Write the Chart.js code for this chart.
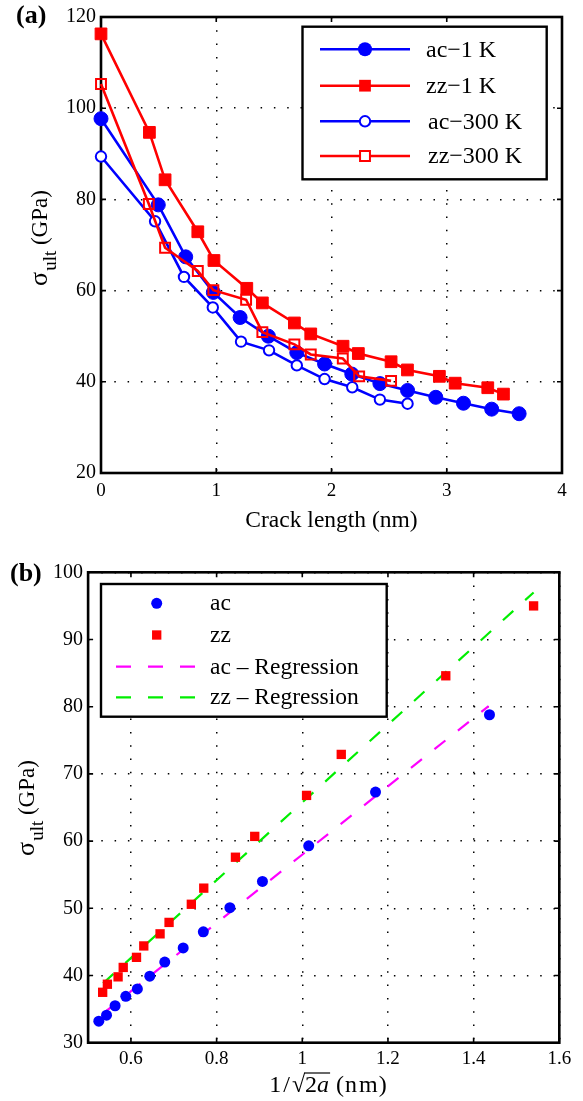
<!DOCTYPE html>
<html><head><meta charset="utf-8">
<script src="https://cdn.jsdelivr.net/npm/chart.js@4.4.1/dist/chart.umd.min.js"></script>
<style>
html,body{margin:0;padding:0;background:#fff;}
#wrap{position:relative;width:583px;height:1101px;overflow:hidden;background:#fff;}
canvas{position:absolute;left:0;}
#ca{top:0;} #cb{top:540px;}
</style></head><body>
<div id="wrap"><canvas id="ca" width="583" height="540"></canvas><canvas id="cb" width="583" height="561"></canvas></div>
<script>
// ---------- Panel (a) data: crack length (nm) vs ultimate strength (GPa) ----------
const ac1K_x   = [0, 0.497, 0.735, 0.975, 1.207, 1.452, 1.699, 1.94, 2.176, 2.42, 2.66, 2.905, 3.145, 3.39, 3.628];
const ac1K_y   = [97.7, 78.8, 67.4, 59.6, 54.1, 50.0, 46.4, 43.9, 41.7, 39.6, 38.1, 36.6, 35.3, 34.0, 33.0];
const zz1K_x   = [0, 0.42, 0.556, 0.84, 0.98, 1.265, 1.40, 1.678, 1.82, 2.10, 2.233, 2.517, 2.659, 2.936, 3.073, 3.356, 3.492];
const zz1K_y   = [116.3, 94.7, 84.3, 72.9, 66.6, 60.5, 57.3, 52.9, 50.5, 47.8, 46.2, 44.4, 42.6, 41.2, 39.7, 38.7, 37.3];
const ac300K_x = [0, 0.469, 0.72, 0.97, 1.215, 1.458, 1.699, 1.94, 2.18, 2.42, 2.66];
const ac300K_y = [89.4, 75.2, 63.0, 56.3, 48.8, 46.9, 43.6, 40.6, 38.8, 36.1, 35.2];
const zz300K_x = [0, 0.415, 0.556, 0.84, 0.975, 1.259, 1.40, 1.678, 1.82, 2.098, 2.24, 2.517];
const zz300K_y = [105.3, 79.0, 69.4, 64.3, 60.1, 58.0, 50.9, 48.2, 46.0, 45.1, 41.2, 40.2];
const labelsA  = ['ac\u22121 K', 'zz\u22121 K', 'ac\u2212300 K', 'zz\u2212300 K'];
const xTicksA  = [0, 1, 2, 3, 4];
const yTicksA  = [20, 40, 60, 80, 100, 120];

// ---------- Panel (b) data: 1/sqrt(2a) (nm) vs ultimate strength (GPa) ----------
const ac_x  = [0.525, 0.543, 0.563, 0.588, 0.615, 0.644, 0.679, 0.722, 0.769, 0.831, 0.907, 1.015, 1.171, 1.437];
const ac_y  = [33.2, 34.1, 35.5, 36.9, 38.0, 39.9, 42.0, 44.1, 46.5, 50.1, 54.0, 59.3, 67.3, 78.8];
const zz_x  = [0.534, 0.545, 0.570, 0.582, 0.613, 0.630, 0.668, 0.689, 0.741, 0.770, 0.844, 0.889, 1.010, 1.091, 1.335, 1.540];
const zz_y  = [37.5, 38.7, 39.8, 41.2, 42.7, 44.4, 46.2, 47.9, 50.6, 53.0, 57.6, 60.7, 66.8, 72.9, 84.6, 95.0];
const acReg_x = [0.542, 1.435];
const acReg_y = [34.7, 80.1];
const zzReg_x = [0.535, 1.540];
const zzReg_y = [38.85, 97.0];
const labelsB = ['ac', 'zz', 'ac \u2013 Regression', 'zz \u2013 Regression'];
const xTicksB = [0.6, 0.8, 1, 1.2, 1.4, 1.6];
const yTicksB = [30, 40, 50, 60, 70, 80, 90, 100];

const FONT = '"Liberation Serif", "Times New Roman", Times, serif';
const BLUE = '#0000ff', RED = '#ff0000', MAG = '#ff00ff', GRN = '#00ee00';
const pts = (xs, ys) => xs.map((x, i) => ({x: x, y: ys[i]}));

function fmt(v) { return String(Math.round(v * 100) / 100); }

function axisX(min, max, ticks, h, pad, size) {
  return {
    type: 'linear', min: min, max: max,
    afterBuildTicks: s => { s.ticks = ticks.map(v => ({value: v})); },
    afterFit: s => { s.height = h; },
    grid: {color: '#000', lineWidth: 1.5, drawTicks: false},
    border: {display: false, dash: [1.5, 11.8]},
    ticks: {color: '#000', padding: pad, font: {family: FONT, size: size}, callback: v => fmt(v), maxRotation: 0, autoSkip: false}
  };
}
function axisY(min, max, ticks, w, size) {
  return {
    type: 'linear', min: min, max: max,
    afterBuildTicks: s => { s.ticks = ticks.map(v => ({value: v})); },
    afterFit: s => { s.width = w; },
    grid: {color: '#000', lineWidth: 1.5, drawTicks: false},
    border: {display: false, dash: [1.5, 11.8]},
    ticks: {color: '#000', padding: 5, font: {family: FONT, size: size}, callback: v => fmt(v), autoSkip: false}
  };
}

function drawYTitle(ctx, bx, cy, size) {
  ctx.save();
  ctx.translate(bx, cy); ctx.rotate(-Math.PI / 2);
  const main = size + 'px ' + FONT, sig = (size + 3) + 'px ' + FONT, sub = Math.round(size * 0.82) + 'px ' + FONT;
  ctx.font = sig; const w1 = ctx.measureText('\u03c3').width;
  ctx.font = sub; const w2 = ctx.measureText('ult').width;
  ctx.font = main; const w3 = ctx.measureText(' (GPa)').width;
  let x = -(w1 + w2 + w3 + 1) / 2;
  ctx.fillStyle = '#000'; ctx.textBaseline = 'alphabetic'; ctx.textAlign = 'left';
  ctx.font = sig; ctx.fillText('\u03c3', x, 0); x += w1 + 1;
  ctx.font = sub; ctx.fillText('ult', x, size * 0.38); x += w2;
  ctx.font = main; ctx.fillText(' (GPa)', x, 0);
  ctx.restore();
}

function framePlugin(extra) {
  return {
    id: 'frame',
    beforeDatasetsDraw(chart) {
      const ctx = chart.ctx, a = chart.chartArea, sx = chart.scales.x, sy = chart.scales.y;
      ctx.save();
      ctx.strokeStyle = '#000'; ctx.lineWidth = 1.6;
      const tl = 5;
      sx.ticks.forEach(t => {
        const p = sx.getPixelForValue(t.value);
        ctx.beginPath(); ctx.moveTo(p, a.bottom); ctx.lineTo(p, a.bottom - tl);
        ctx.moveTo(p, a.top); ctx.lineTo(p, a.top + tl); ctx.stroke();
      });
      sy.ticks.forEach(t => {
        const p = sy.getPixelForValue(t.value);
        ctx.beginPath(); ctx.moveTo(a.left, p); ctx.lineTo(a.left + tl, p);
        ctx.moveTo(a.right, p); ctx.lineTo(a.right - tl, p); ctx.stroke();
      });
      ctx.lineWidth = 2.6;
      ctx.strokeRect(a.left, a.top, a.right - a.left, a.bottom - a.top);
      ctx.restore();
    },
    afterDatasetsDraw(chart) { extra(chart); }
  };
}

function marker(ctx, style, x, y, r, color, filled) {
  ctx.save();
  ctx.fillStyle = color; ctx.strokeStyle = color; ctx.lineWidth = 2;
  ctx.beginPath();
  if (style === 'circle') ctx.arc(x, y, r, 0, Math.PI * 2);
  else { const h = r * Math.SQRT1_2; ctx.rect(x - h, y - h, 2 * h, 2 * h); }
  if (filled) ctx.fill(); else ctx.stroke();
  ctx.restore();
}

// ---------- Chart (a) ----------
const dsA = [
  {label: labelsA[0], data: pts(ac1K_x, ac1K_y), borderColor: BLUE, backgroundColor: BLUE, pointStyle: 'circle', pointRadius: 7, pointBorderWidth: 1, order: 4},
  {label: labelsA[1], data: pts(zz1K_x, zz1K_y), borderColor: RED, backgroundColor: RED, pointStyle: 'rect', pointRadius: 8.3, pointBorderWidth: 1, order: 3},
  {label: labelsA[2], data: pts(ac300K_x, ac300K_y), borderColor: BLUE, backgroundColor: 'rgba(0,0,0,0)', pointBackgroundColor: '#fff', pointStyle: 'circle', pointRadius: 5.2, pointBorderWidth: 2, order: 2},
  {label: labelsA[3], data: pts(zz300K_x, zz300K_y), borderColor: RED, backgroundColor: 'rgba(0,0,0,0)', pointBackgroundColor: 'rgba(255,255,255,0)', pointStyle: 'rect', pointRadius: 7, pointBorderWidth: 2, order: 1}
].map(d => Object.assign({borderWidth: 2.6, showLine: true, fill: false, clip: false, tension: 0}, d));

new Chart(document.getElementById('ca'), {
  type: 'line',
  data: {datasets: dsA},
  options: {
    responsive: false, animation: false, events: [],
    layout: {padding: {top: 12, right: 21, left: 0, bottom: 0}},
    plugins: {legend: {display: false}, tooltip: {enabled: false}},
    scales: {x: axisX(0, 4, xTicksA, 67, 7, 19), y: axisY(20, 120, yTicksA, 101, 20)}
  },
  plugins: [framePlugin(chart => {
    const ctx = chart.ctx;
    ctx.save();
    const L = 302.5, T = 26.7, R = 546.7, B = 179.3;
    ctx.fillStyle = '#fff'; ctx.fillRect(L, T, R - L, B - T);
    ctx.strokeStyle = '#000'; ctx.lineWidth = 2.4; ctx.strokeRect(L, T, R - L, B - T);
    const rows = [49.3, 85.7, 121.3, 156];
    const mk = [['circle', 7, BLUE, true], ['rect', 8.3, RED, true], ['circle', 5.2, BLUE, false], ['rect', 7, RED, false]];
    dsA.forEach((d, i) => {
      const y = rows[i];
      ctx.strokeStyle = d.borderColor; ctx.lineWidth = 2.6;
      ctx.beginPath(); ctx.moveTo(320, y); ctx.lineTo(410, y); ctx.stroke();
      if (!mk[i][3]) { ctx.fillStyle = '#fff'; ctx.fillRect(360, y - 5, 10, 10); }
      marker(ctx, mk[i][0], 365, y, mk[i][1], mk[i][2], mk[i][3]);
      ctx.fillStyle = '#000'; ctx.font = '24px ' + FONT; ctx.textBaseline = 'middle'; ctx.textAlign = 'left';
      ctx.fillText(d.label, i < 2 ? 426 : 428, y + 1);
    });
    ctx.font = '23.5px ' + FONT; ctx.textAlign = 'center'; ctx.textBaseline = 'alphabetic';
    ctx.fillText('Crack length (nm)', (chart.chartArea.left + chart.chartArea.right) / 2, 527);
    ctx.font = 'bold 26px ' + FONT; ctx.textAlign = 'left';
    ctx.fillText('(a)', 16, 23);
    ctx.restore();
    drawYTitle(ctx, 47, 238, 23);
  })]
});

// ---------- Chart (b) ----------
const dsB = [
  {label: labelsB[0], data: pts(ac_x, ac_y), showLine: false, borderColor: BLUE, backgroundColor: BLUE, pointStyle: 'circle', pointRadius: 5.5, pointBorderWidth: 0, order: 1},
  {label: labelsB[1], data: pts(zz_x, zz_y), showLine: false, borderColor: RED, backgroundColor: RED, pointStyle: 'rect', pointRadius: 6.6, pointBorderWidth: 0, order: 2},
  {label: labelsB[2], data: pts(acReg_x, acReg_y), showLine: true, borderColor: MAG, backgroundColor: MAG, pointRadius: 0, borderWidth: 2.2, borderDash: [14, 16], order: 3},
  {label: labelsB[3], data: pts(zzReg_x, zzReg_y), showLine: true, borderColor: GRN, backgroundColor: GRN, pointRadius: 0, borderWidth: 2.2, borderDash: [14, 16], order: 4}
].map(d => Object.assign({fill: false, clip: false, tension: 0}, d));

new Chart(document.getElementById('cb'), {
  type: 'line',
  data: {datasets: dsB},
  options: {
    responsive: false, animation: false, events: [],
    layout: {padding: {top: 32.3, right: 23.7, left: 0, bottom: 0}},
    plugins: {legend: {display: false}, tooltip: {enabled: false}},
    scales: {x: axisX(0.5, 1.6, xTicksB, 58.3, 5, 19), y: axisY(30, 100, yTicksB, 88.1, 20)}
  },
  plugins: [framePlugin(chart => {
    const ctx = chart.ctx;
    ctx.save();
    const L = 101, T = 44, R = 386.7, B = 176.7;
    ctx.fillStyle = '#fff'; ctx.fillRect(L, T, R - L, B - T);
    ctx.strokeStyle = '#000'; ctx.lineWidth = 2.4; ctx.strokeRect(L, T, R - L, B - T);
    const rows = [63.3, 95, 126.7, 157.3];
    marker(ctx, 'circle', 156.7, rows[0], 5.5, BLUE, true);
    marker(ctx, 'rect', 156.7, rows[1], 6.6, RED, true);
    [[MAG, rows[2]], [GRN, rows[3]]].forEach(([c, y]) => {
      ctx.strokeStyle = c; ctx.lineWidth = 2.2; ctx.setLineDash([15, 17]);
      ctx.beginPath(); ctx.moveTo(116, y); ctx.lineTo(196, y); ctx.stroke();
    });
    ctx.setLineDash([]);
    ctx.fillStyle = '#000'; ctx.font = '23.5px ' + FONT; ctx.textBaseline = 'middle'; ctx.textAlign = 'left';
    dsB.forEach((d, i) => ctx.fillText(d.label, 210, rows[i] + 1));
    // x title: 1/sqrt(2a) (nm), laid out piece by piece like math typesetting
    const base = 551.5, size = 24;
    const f = size + 'px ' + FONT, fi = 'italic ' + size + 'px ' + FONT;
    const parts = [['1', f, 2], ['/', f, 2], ['\u221a', f, 0], ['2', f, 0], ['a', fi, 7], ['(', f, 1], ['n', f, 2], ['m', f, 1], [')', f, 0]];
    let total = 0; const ws = parts.map(p => { ctx.font = p[1]; const w = ctx.measureText(p[0]).width; total += w + p[2]; return w; });
    let x = 328 - total / 2;
    ctx.textBaseline = 'alphabetic'; ctx.textAlign = 'left';
    let ovStart = 0, ovEnd = 0;
    parts.forEach((p, i) => {
      ctx.font = p[1]; ctx.fillText(p[0], x, base);
      if (i === 3) ovStart = x - 1;
      if (i === 4) ovEnd = x + ws[i] + 1;
      x += ws[i] + p[2];
    });
    ctx.strokeStyle = '#000'; ctx.lineWidth = 1.2;
    ctx.beginPath(); ctx.moveTo(ovStart, base - 18.5); ctx.lineTo(ovEnd, base - 18.5); ctx.stroke();
    ctx.font = 'bold 26px ' + FONT; ctx.textAlign = 'left';
    ctx.fillText('(b)', 10, 41);
    ctx.restore();
    drawYTitle(ctx, 34, 268, 23);
  })]
});
</script>
</body></html>
